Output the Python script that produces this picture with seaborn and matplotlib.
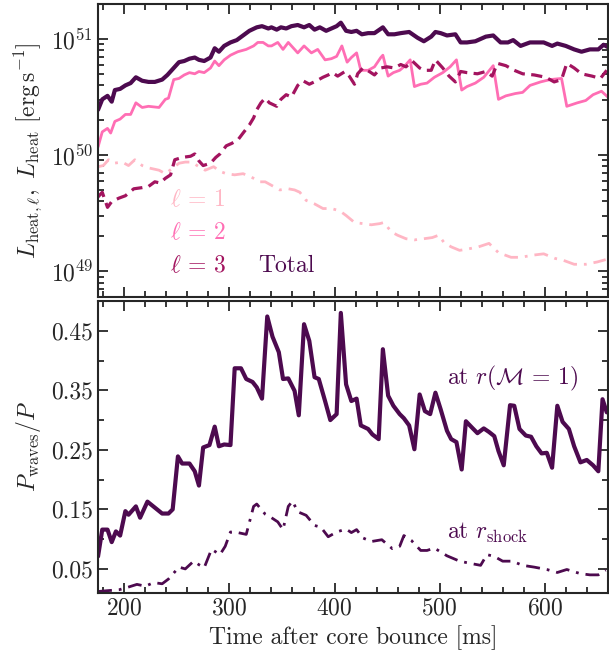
import numpy as np
import seaborn as sns
import matplotlib.pyplot as plt
from matplotlib.ticker import FixedLocator, MultipleLocator, NullFormatter

# top panel: heating luminosities, read as log10(L / erg s^-1)
t_total = [175, 179, 184, 188, 191, 196, 201, 206, 211, 217, 223, 229, 236, 241, 247, 252, 257, 262,
           267, 271, 276, 282, 286, 290, 295, 301, 307, 313, 319, 326, 331, 337, 340, 345, 349, 354,
           359, 365, 371, 376, 381, 386, 392, 397, 402, 406, 411, 416, 421, 426, 432, 438, 446, 451,
           457, 463, 471, 479, 485, 492, 496, 501, 507, 515, 520, 526, 534, 544, 551, 558, 565, 570,
           577, 586, 599, 607, 612, 620, 628, 635, 643, 651, 656, 660]
log_total = [50.39, 50.48, 50.51, 50.46, 50.56, 50.57, 50.60, 50.62, 50.67, 50.64, 50.63, 50.63, 50.65,
             50.69, 50.75, 50.80, 50.81, 50.83, 50.84, 50.82, 50.81, 50.84, 50.92, 50.89, 50.94, 50.97,
             50.99, 51.03, 51.07, 51.10, 51.11, 51.09, 51.10, 51.08, 51.10, 51.09, 51.11, 51.12, 51.10,
             51.12, 51.08, 51.10, 51.07, 51.09, 51.11, 51.14, 51.07, 51.06, 51.07, 51.04, 51.05, 51.05,
             51.10, 51.04, 51.04, 51.05, 51.06, 51.01, 50.98, 51.02, 51.06, 51.05, 51.03, 51.04, 50.97,
             50.97, 50.98, 51.02, 51.03, 50.97, 50.97, 50.99, 50.94, 50.97, 50.97, 50.94, 50.96, 50.94,
             50.91, 50.89, 50.91, 50.91, 50.95, 50.93]

t_l1 = [175, 180, 185, 190, 198, 204, 210, 217, 223, 233, 239, 245, 252, 258, 264, 271, 277, 285, 291,
        297, 305, 313, 321, 329, 334, 342, 348, 356, 362, 367, 373, 381, 389, 397, 405, 411, 419, 427,
        435, 443, 447, 454, 460, 468, 476, 485, 493, 499, 504, 511, 519, 526, 537, 547, 556, 568, 577,
        590, 599, 610, 616, 628, 639, 650, 658]
log_l1 = [49.90, 49.91, 49.96, 49.93, 49.94, 49.91, 49.96, 49.91, 49.89, 49.87, 49.84, 49.88, 49.93,
          49.94, 49.94, 49.90, 49.87, 49.90, 49.86, 49.84, 49.83, 49.84, 49.81, 49.77, 49.77, 49.73,
          49.70, 49.71, 49.70, 49.68, 49.61, 49.58, 49.54, 49.54, 49.52, 49.48, 49.42, 49.41, 49.40,
          49.41, 49.42, 49.34, 49.31, 49.28, 49.27, 49.28, 49.29, 49.31, 49.25, 49.21, 49.18, 49.19,
          49.21, 49.24, 49.16, 49.12, 49.12, 49.14, 49.15, 49.11, 49.10, 49.06, 49.06, 49.08, 49.10]

t_l2 = [175, 179, 184, 187, 191, 196, 201, 206, 211, 217, 223, 233, 239, 242, 247, 252, 257, 262, 267,
        271, 276, 282, 286, 290, 295, 301, 308, 316, 323, 327, 332, 337, 340, 346, 351, 356, 361, 365,
        371, 378, 384, 391, 397, 402, 407, 412, 416, 421, 425, 432, 438, 444, 446, 451, 456, 462, 466,
        472, 476, 482, 488, 495, 503, 510, 516, 521, 526, 534, 542, 551, 556, 563, 572, 579, 586, 596,
        605, 616, 621, 631, 639, 646, 654, 660]
log_l2 = [50.07, 50.20, 50.23, 50.19, 50.29, 50.31, 50.35, 50.35, 50.45, 50.41, 50.42, 50.41, 50.48,
          50.49, 50.65, 50.66, 50.69, 50.71, 50.70, 50.72, 50.71, 50.75, 50.81, 50.77, 50.82, 50.86,
          50.89, 50.91, 50.94, 50.97, 50.97, 50.94, 50.94, 50.97, 50.91, 50.97, 50.92, 50.88, 50.94,
          50.88, 50.91, 50.82, 50.83, 50.85, 50.94, 50.80, 50.84, 50.88, 50.73, 50.73, 50.76, 50.84,
          50.86, 50.68, 50.71, 50.73, 50.76, 50.82, 50.59, 50.61, 50.62, 50.67, 50.71, 50.76, 50.82,
          50.56, 50.59, 50.62, 50.67, 50.77, 50.48, 50.51, 50.53, 50.54, 50.60, 50.63, 50.65, 50.66,
          50.42, 50.45, 50.47, 50.52, 50.55, 50.50]

t_l3 = [175, 179, 184, 188, 195, 201, 209, 217, 223, 229, 234, 239, 244, 248, 255, 263, 267, 271, 275,
        282, 287, 291, 297, 302, 308, 313, 319, 323, 326, 330, 334, 338, 345, 349, 354, 359, 365, 370,
        376, 383, 389, 394, 398, 403, 410, 414, 419, 422, 427, 433, 438, 444, 450, 457, 463, 468, 474,
        481, 485, 492, 496, 503, 509, 515, 520, 526, 536, 544, 550, 555, 563, 571, 579, 590, 601, 609,
        616, 621, 628, 635, 645, 653, 659]
log_l3 = [49.64, 49.68, 49.55, 49.60, 49.63, 49.65, 49.71, 49.72, 49.73, 49.77, 49.76, 49.80, 49.83,
          49.96, 49.98, 49.99, 50.01, 49.95, 49.91, 49.93, 49.98, 50.01, 50.08, 50.10, 50.13, 50.19,
          50.26, 50.32, 50.39, 50.45, 50.49, 50.45, 50.42, 50.48, 50.52, 50.50, 50.60, 50.64, 50.61,
          50.64, 50.67, 50.69, 50.71, 50.68, 50.72, 50.68, 50.61, 50.70, 50.75, 50.72, 50.69, 50.75,
          50.76, 50.75, 50.78, 50.76, 50.81, 50.75, 50.73, 50.73, 50.82, 50.75, 50.68, 50.63, 50.72,
          50.71, 50.70, 50.72, 50.68, 50.79, 50.77, 50.73, 50.70, 50.69, 50.67, 50.63, 50.65, 50.79,
          50.75, 50.70, 50.68, 50.66, 50.73]

# bottom panel: wave pressure fraction
t_mach = [175, 179, 184, 188, 192, 196, 201, 204, 211, 215, 222, 229, 236, 242, 246, 251, 255, 262,
          267, 271, 275, 281, 286, 290, 295, 301, 305, 311, 316, 322, 326, 331, 336, 341, 347, 351,
          356, 362, 366, 371, 376, 381, 385, 391, 396, 402, 406, 411, 416, 421, 425, 432, 436, 442,
          446, 451, 456, 462, 466, 471, 476, 481, 486, 491, 496, 501, 507, 511, 516, 521, 525, 531,
          536, 542, 547, 552, 556, 561, 567, 571, 576, 582, 587, 592, 597, 602, 607, 612, 617, 623,
          628, 634, 640, 646, 651, 655, 659]
p_mach = [0.071, 0.116, 0.116, 0.095, 0.113, 0.106, 0.147, 0.141, 0.155, 0.136, 0.163, 0.153, 0.143,
          0.143, 0.150, 0.239, 0.227, 0.227, 0.214, 0.190, 0.254, 0.258, 0.289, 0.256, 0.259, 0.258,
          0.387, 0.387, 0.369, 0.364, 0.355, 0.336, 0.474, 0.440, 0.414, 0.369, 0.370, 0.349, 0.308,
          0.461, 0.433, 0.372, 0.369, 0.332, 0.300, 0.310, 0.480, 0.360, 0.332, 0.336, 0.291, 0.285,
          0.276, 0.268, 0.419, 0.341, 0.324, 0.310, 0.303, 0.291, 0.251, 0.343, 0.315, 0.310, 0.346,
          0.318, 0.282, 0.268, 0.263, 0.217, 0.298, 0.287, 0.278, 0.286, 0.280, 0.273, 0.248, 0.224,
          0.325, 0.324, 0.285, 0.274, 0.272, 0.256, 0.244, 0.245, 0.220, 0.324, 0.297, 0.285, 0.256,
          0.229, 0.233, 0.224, 0.214, 0.335, 0.313]

t_shock = [175, 181, 195, 203, 212, 220, 228, 236, 242, 252, 258, 266, 271, 276, 283, 291, 296, 301,
           308, 316, 323, 326, 334, 340, 346, 351, 356, 360, 365, 373, 381, 387, 394, 402, 411, 416,
           421, 427, 435, 445, 455, 462, 466, 473, 482, 488, 495, 507, 519, 530, 539, 545, 552, 560,
           569, 579, 590, 602, 612, 621, 634, 643, 651, 658]
p_shock = [0.012, 0.013, 0.015, 0.019, 0.024, 0.021, 0.027, 0.025, 0.033, 0.053, 0.050, 0.063, 0.057,
           0.052, 0.083, 0.074, 0.088, 0.112, 0.111, 0.108, 0.155, 0.159, 0.142, 0.136, 0.129, 0.116,
           0.155, 0.164, 0.146, 0.140, 0.123, 0.120, 0.104, 0.112, 0.117, 0.111, 0.116, 0.102, 0.096,
           0.099, 0.084, 0.088, 0.106, 0.098, 0.081, 0.081, 0.085, 0.072, 0.063, 0.059, 0.056, 0.074,
           0.071, 0.063, 0.063, 0.056, 0.053, 0.049, 0.044, 0.049, 0.042, 0.040, 0.040, 0.048]

c_total = "#4d0a4f"
c_l1 = "#ffb6c4"
c_l2 = "#ff6eb4"
c_l3 = "#a3145f"

sns.set_style("ticks")
plt.rcParams.update({
    "font.family": "serif",
    "font.serif": ["cmr10"],
    "mathtext.fontset": "cm",
    "axes.unicode_minus": False,
    "axes.formatter.use_mathtext": True,
    "font.size": 17,
    "axes.linewidth": 1.5,
})

fig = plt.figure(figsize=(6.09, 6.63), dpi=100)
ax1 = fig.add_axes([0.161, 0.552, 0.837, 0.442])
ax2 = fig.add_axes([0.161, 0.106, 0.837, 0.440])

sns.lineplot(x=t_l1, y=10 ** np.array(log_l1), ax=ax1, color=c_l1, lw=2.0)
ax1.lines[-1].set_dashes((5, 2.5, 1, 2.5))
sns.lineplot(x=t_l2, y=10 ** np.array(log_l2), ax=ax1, color=c_l2, lw=2.0)
sns.lineplot(x=t_l3, y=10 ** np.array(log_l3), ax=ax1, color=c_l3, lw=2.3)
ax1.lines[-1].set_dashes((3.5, 2))
sns.lineplot(x=t_total, y=10 ** np.array(log_total), ax=ax1, color=c_total, lw=3.0)

sns.lineplot(x=t_mach, y=p_mach, ax=ax2, color=c_total, lw=3.0)
sns.lineplot(x=t_shock, y=p_shock, ax=ax2, color=c_total, lw=2.0)
ax2.lines[-1].set_dashes((5, 2.5, 1, 2.5))

ax1.set_yscale("log")
ax1.set_ylim(6e48, 2e51)
ax2.set_ylim(0.01, 0.5)
for ax in (ax1, ax2):
    ax.set_xlim(175, 660)
    ax.xaxis.set_major_locator(MultipleLocator(100))
    ax.xaxis.set_minor_locator(MultipleLocator(20))
    ax.tick_params(which="both", direction="in", top=True, right=True, width=1.3, labelsize=17)
    ax.tick_params(which="major", length=7)
    ax.tick_params(which="minor", length=4)

ax1.xaxis.set_major_formatter(NullFormatter())
ax1.set_xlabel("")
ax2.yaxis.set_major_locator(FixedLocator([0.05, 0.15, 0.25, 0.35, 0.45]))
ax2.yaxis.set_minor_locator(FixedLocator([0.1, 0.2, 0.3, 0.4]))
ax2.set_yticklabels(["0.05", "0.15", "0.25", "0.35", "0.45"])

ax1.set_ylabel(r"$L_{\mathrm{heat},\ell},\ L_\mathrm{heat}\ [\mathrm{erg\,s^{-1}}]$", fontsize=17, labelpad=4)
ax2.set_ylabel(r"$P_\mathrm{waves}/P$", fontsize=17, labelpad=6)
ax2.set_xlabel("Time after core bounce [ms]", fontsize=17)
fig.align_ylabels([ax1, ax2])

ax1.text(0.141, 0.331, r"$\ell\,=\,1$", transform=ax1.transAxes, color=c_l1, va="center", fontsize=17)
ax1.text(0.141, 0.218, r"$\ell\,=\,2$", transform=ax1.transAxes, color=c_l2, va="center", fontsize=17)
ax1.text(0.141, 0.106, r"$\ell\,=\,3$", transform=ax1.transAxes, color=c_l3, va="center", fontsize=17)
ax1.text(0.314, 0.106, "Total", transform=ax1.transAxes, color=c_total, va="center", fontsize=17)
ax2.text(0.684, 0.736, r"at $r(\mathcal{M}\,=\,1)$", transform=ax2.transAxes, color=c_total,
         va="center", fontsize=17)
ax2.text(0.684, 0.205, r"at $r_\mathrm{shock}$", transform=ax2.transAxes, color=c_total,
         va="center", fontsize=17)

fig.savefig("out.png", dpi=100)
